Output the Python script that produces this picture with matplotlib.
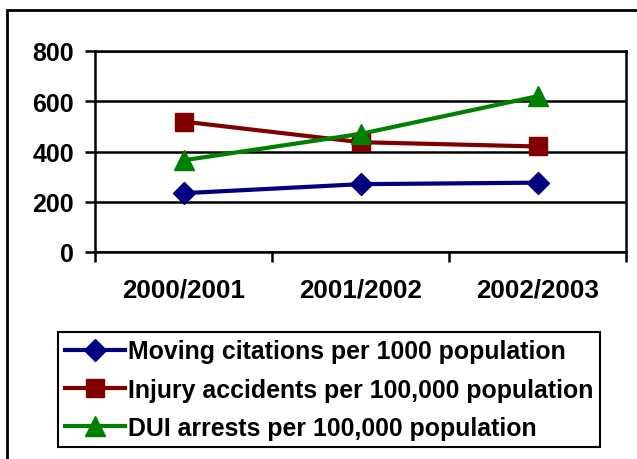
import matplotlib.pyplot as plt
from matplotlib.patches import Rectangle

plt.rcParams['font.family'] = ['Liberation Sans', 'DejaVu Sans']
plt.rcParams['font.weight'] = 'bold'

years = ['2000/2001', '2001/2002', '2002/2003']
moving = [234, 270, 276]     # per 1000 population
injury = [519, 437, 420]     # per 100,000 population
dui = [365, 470, 620]        # per 100,000 population

fig = plt.figure(figsize=(6.37, 4.60), dpi=100)
ax = fig.add_axes([95/637, 1 - 253/460, 531/637, 201/460])

x = range(len(years))
ax.plot(x, moving, color='#000080', lw=3, marker='D', ms=11,
        label='Moving citations per 1000 population')
ax.plot(x, injury, color='#800000', lw=3, marker='s', ms=13,
        label='Injury accidents per 100,000 population')
ax.plot(x, dui, color='#008000', lw=3, marker='^', ms=14,
        label='DUI arrests per 100,000 population')

ax.set_xlim(-0.5, 2.5)
ax.set_ylim(0, 800)
ax.set_yticks([0, 200, 400, 600, 800])
ax.set_xticks(list(x))
ax.set_xticklabels(years)
ax.set_xticks([-0.5, 0.5, 1.5, 2.5], minor=True)
ax.tick_params(axis='x', which='major', length=0, pad=18, labelsize=18.7)
ax.tick_params(axis='x', which='minor', length=7, width=1.8, direction='out')
ax.tick_params(axis='y', length=7, width=1.8, pad=8, labelsize=18)
ax.yaxis.grid(True, color='black', lw=1.8)
ax.set_axisbelow(True)
for s in ax.spines.values():
    s.set_linewidth(1.8)

leg = fig.legend(loc='upper left', bbox_to_anchor=(58/637, 1 - 333/460),
                 fontsize=17.9, frameon=True, fancybox=False, framealpha=1,
                 handlelength=2.4, handletextpad=0.1, labelspacing=0.57,
                 borderpad=0.3, borderaxespad=0)
leg.get_frame().set_edgecolor('black')
leg.get_frame().set_linewidth(1.5)

# outer chart border, running off the right and bottom edges
fig.patches.append(Rectangle((7/637, -0.1), 1.1, 1 - 11/460 + 0.1,
                             transform=fig.transFigure, fill=False,
                             edgecolor='black', lw=2, clip_on=False))

fig.savefig('out.png', dpi=100)
